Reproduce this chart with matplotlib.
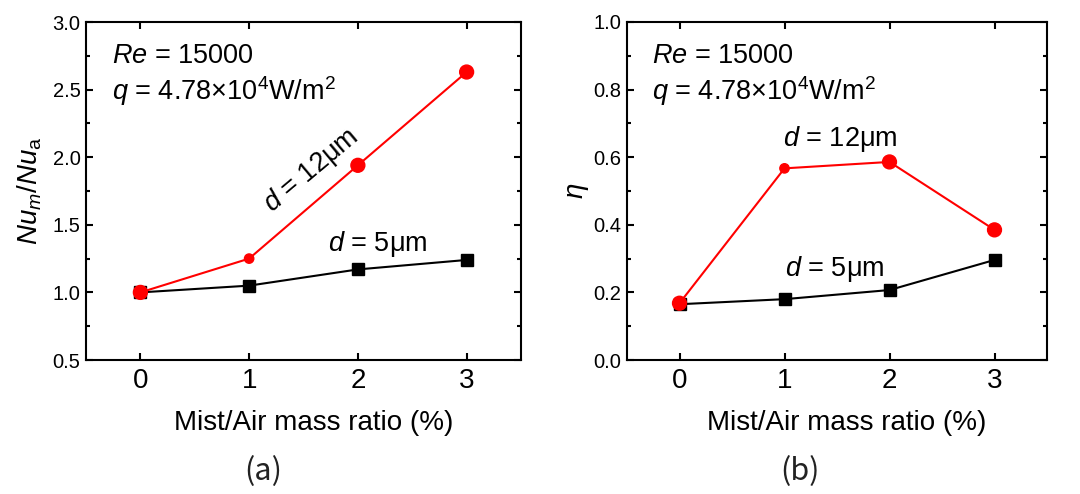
import matplotlib
matplotlib.use("Agg")
import matplotlib.pyplot as plt
from matplotlib.ticker import MultipleLocator

# data
ratio = [0, 1, 2, 3]

nu_12um = [1.00, 1.25, 1.94, 2.63]
nu_5um = [1.00, 1.05, 1.17, 1.24]

eta_12um = [0.168, 0.567, 0.586, 0.385]
eta_5um = [0.165, 0.180, 0.207, 0.296]

# red marker at 1 % is drawn smaller in the source
red_sizes = [100, 45, 100, 100]

plt.rcParams["font.family"] = ["Liberation Sans", "DejaVu Sans"]
plt.rcParams["mathtext.fontset"] = "custom"
plt.rcParams["mathtext.rm"] = "Liberation Sans"
plt.rcParams["mathtext.it"] = "Liberation Sans:italic"
plt.rcParams["axes.linewidth"] = 1.5

fig = plt.figure(figsize=(10.8, 4.94), dpi=100)
ax1 = fig.add_axes([86 / 1080, 1 - 360 / 494, 435 / 1080, 338 / 494])
ax2 = fig.add_axes([627 / 1080, 1 - 360 / 494, 420 / 1080, 338 / 494])


def style(ax, ymin, ymax, major, minor):
    ax.set_xlim(-0.5, 3.5)
    ax.set_ylim(ymin, ymax)
    ax.xaxis.set_major_locator(MultipleLocator(1))
    ax.yaxis.set_major_locator(MultipleLocator(major))
    ax.yaxis.set_minor_locator(MultipleLocator(minor))
    ax.yaxis.set_major_formatter(plt.FormatStrFormatter("%.1f"))
    ax.tick_params(which="both", direction="in", top=True, right=True, width=1.5)
    ax.tick_params(which="major", length=5)
    ax.tick_params(which="minor", length=3)
    ax.tick_params(axis="x", labelsize=20, pad=6)
    ax.tick_params(axis="y", labelsize=14.5, pad=4)
    ax.set_xlabel("Mist/Air mass ratio (%)", fontsize=20, labelpad=11)
    ax.xaxis.label.set_x(0.523)
    ax.text(0.06, 0.88, "$Re$ = 15000", transform=ax.transAxes, fontsize=19.5)
    ax.text(0.06, 0.77, "$q$ = 4.78×10$^4$W/m$^2$", transform=ax.transAxes, fontsize=19.5)


def draw(ax, red, black):
    ax.plot(ratio, black, color="black", lw=1.5, marker="s", ms=8.5, zorder=3)
    ax.plot(ratio, red, color="red", lw=1.5, zorder=4)
    ax.scatter(ratio, red, s=red_sizes, color="red", zorder=5)


# (a)
draw(ax1, nu_12um, nu_5um)
style(ax1, 0.5, 3.0, 0.5, 0.25)
ax1.set_ylabel("$Nu_m$/$Nu_\\mathrm{a}$", fontsize=20, labelpad=6)
ax1.text(1.57, 1.9, "$d$ = 12μm", fontsize=19.5, rotation=40, ha="center", va="center")
ax1.text(2.18, 1.36, "$d$ = 5μm", fontsize=19.5, ha="center", va="center")

# (b)
draw(ax2, eta_12um, eta_5um)
style(ax2, 0.0, 1.0, 0.2, 0.1)
ax2.set_ylabel("$\\eta$", fontsize=20, labelpad=2)
ax2.text(1.53, 0.655, "$d$ = 12μm", fontsize=19.5, ha="center", va="center")
ax2.text(1.48, 0.27, "$d$ = 5μm", fontsize=19.5, ha="center", va="center")

fig.text(263 / 1080, 1 - 472 / 494, "(a)", fontsize=22, ha="center", va="center",
         family=["Noto Sans CJK SC", "DejaVu Sans"], color="#222222")
fig.text(800 / 1080, 1 - 472 / 494, "(b)", fontsize=22, ha="center", va="center",
         family=["Noto Sans CJK SC", "DejaVu Sans"], color="#222222")

fig.savefig("out.png", dpi=100)
